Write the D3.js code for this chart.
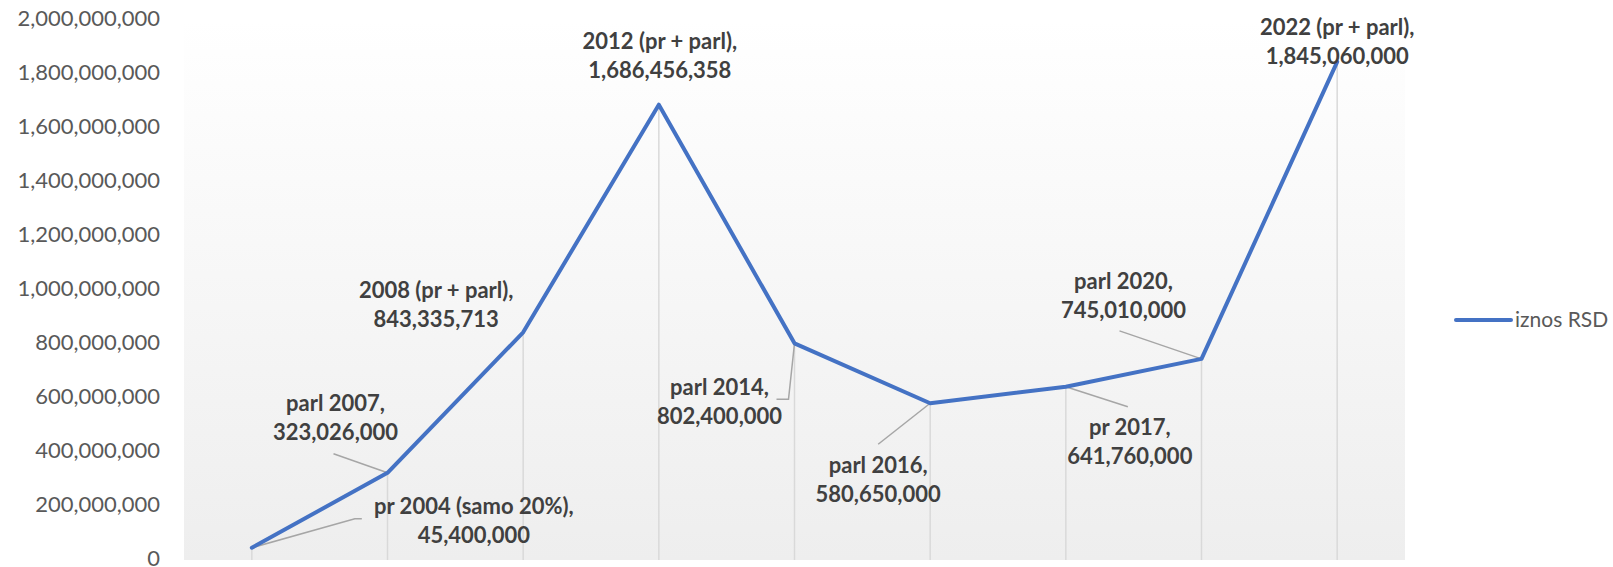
<!DOCTYPE html>
<html>
<head>
<meta charset="utf-8">
<script src="https://cdn.jsdelivr.net/npm/d3@7"></script>
<style>
  html, body { margin: 0; padding: 0; background: #fff; }
  svg { display: block; }
</style>
</head>
<body>
<div id="plot"></div>
<script>
// Chart data
const categories = ["pr 2004 (samo 20%)", "parl 2007", "2008 (pr + parl)", "2012 (pr + parl)",
  "parl 2014", "parl 2016", "pr 2017", "parl 2020", "2022 (pr + parl)"];
const values = [45400000, 323026000, 843335713, 1686456358, 802400000,
  580650000, 641760000, 745010000, 1845060000];
const yTickValues = [0, 200000000, 400000000, 600000000, 800000000, 1000000000,
  1200000000, 1400000000, 1600000000, 1800000000, 2000000000];
const seriesName = "iznos RSD";

// Label placement (offset of first label line from its point, in px) and leader lines
const labelOffsets = [[222, -41], [-52, -69], [-87, -42], [1, -63], [-75, 44],
  [-52, 62], [64, 41], [-78, -78], [0, -35]];
const leaders = [
  [[0, 0], [103, -29], [110, -29]],
  [[0, 0], [-54, -19]],
  null,
  null,
  [[0, 0], [-6, 56], [-18, 56]],
  [[0, 0], [-52, 41]],
  [[0, 0], [62, 20]],
  [[0, 0], [-82, -28]],
  null
];

const width = 1613, height = 567;
const margin = { top: 20, right: 208, bottom: 7, left: 184 };
const font = "Lato, 'Open Sans', sans-serif";

const svg = d3.select("#plot").append("svg")
  .attr("width", width)
  .attr("height", height);

// Plot area gradient background
const grad = svg.append("defs").append("linearGradient")
  .attr("id", "bg").attr("x1", 0).attr("y1", 0).attr("x2", 0).attr("y2", 1);
grad.append("stop").attr("offset", "0%").attr("stop-color", "#ffffff");
grad.append("stop").attr("offset", "100%").attr("stop-color", "#eeeeee");

const xScale = d3.scalePoint()
  .domain(categories)
  .range([margin.left, width - margin.right])
  .padding(0.5);

const yScale = d3.scaleLinear()
  .domain([0, 2000000000])
  .range([height - margin.bottom, margin.top]);

svg.append("rect")
  .attr("x", margin.left)
  .attr("y", margin.top)
  .attr("width", width - margin.right - margin.left)
  .attr("height", height - margin.bottom - margin.top)
  .attr("fill", "url(#bg)");

// Y axis (labels only)
const yAxis = d3.axisLeft(yScale)
  .tickValues(yTickValues)
  .tickFormat(d3.format(","))
  .tickSize(0)
  .tickPadding(0);

const yAxisGroup = svg.append("g")
  .attr("transform", `translate(160,0)`)
  .call(yAxis);
yAxisGroup.select(".domain").remove();
yAxisGroup.selectAll("text")
  .attr("dy", "0.27em")
  .attr("font-family", font)
  .attr("font-size", 22)
  .attr("fill", "#595959");

const data = categories.map((c, i) => ({ cat: c, value: values[i], i: i }));

// Drop lines
svg.append("g").selectAll("line")
  .data(data)
  .enter().append("line")
  .attr("x1", d => xScale(d.cat))
  .attr("x2", d => xScale(d.cat))
  .attr("y1", d => yScale(d.value))
  .attr("y2", yScale(0))
  .attr("stroke", "#d9d9d9")
  .attr("stroke-width", 1.5);

// Leader lines
const leaderLine = d3.line();
svg.append("g").selectAll("path")
  .data(data.filter(d => leaders[d.i]))
  .enter().append("path")
  .attr("d", d => leaderLine(leaders[d.i].map(p => [xScale(d.cat) + p[0], yScale(d.value) + p[1]])))
  .attr("fill", "none")
  .attr("stroke", "#a6a6a6")
  .attr("stroke-width", 1.5);

// Series line
const line = d3.line()
  .x(d => xScale(d.cat))
  .y(d => yScale(d.value));

svg.append("path")
  .datum(data)
  .attr("fill", "none")
  .attr("stroke", "#4472c4")
  .attr("stroke-width", 4)
  .attr("stroke-linejoin", "round")
  .attr("stroke-linecap", "round")
  .attr("d", line);

// Data labels
const fmt = d3.format(",");
const labels = svg.append("g")
  .attr("font-family", font)
  .attr("font-size", 22)
  .attr("font-weight", "bold")
  .attr("fill", "#404040")
  .attr("text-anchor", "middle");

labels.selectAll("text")
  .data(data)
  .enter().append("text")
  .attr("x", d => xScale(d.cat) + labelOffsets[d.i][0])
  .attr("y", d => yScale(d.value) + labelOffsets[d.i][1])
  .each(function(d) {
    const t = d3.select(this);
    const x = xScale(d.cat) + labelOffsets[d.i][0];
    t.append("tspan").attr("x", x).attr("dy", "0.35em").text(d.cat + ",");
    t.append("tspan").attr("x", x).attr("dy", 29).text(fmt(d.value));
  });

// Legend
const legend = svg.append("g").attr("transform", "translate(1456,320)");
legend.append("line")
  .attr("x1", 0).attr("x2", 55)
  .attr("y1", 0).attr("y2", 0)
  .attr("stroke", "#4472c4")
  .attr("stroke-width", 4)
  .attr("stroke-linecap", "round");
legend.append("text")
  .attr("x", 59)
  .attr("y", 0)
  .attr("dy", "0.35em")
  .attr("font-family", font)
  .attr("font-size", 21)
  .attr("fill", "#595959")
  .text(seriesName);
</script>
</body>
</html>
